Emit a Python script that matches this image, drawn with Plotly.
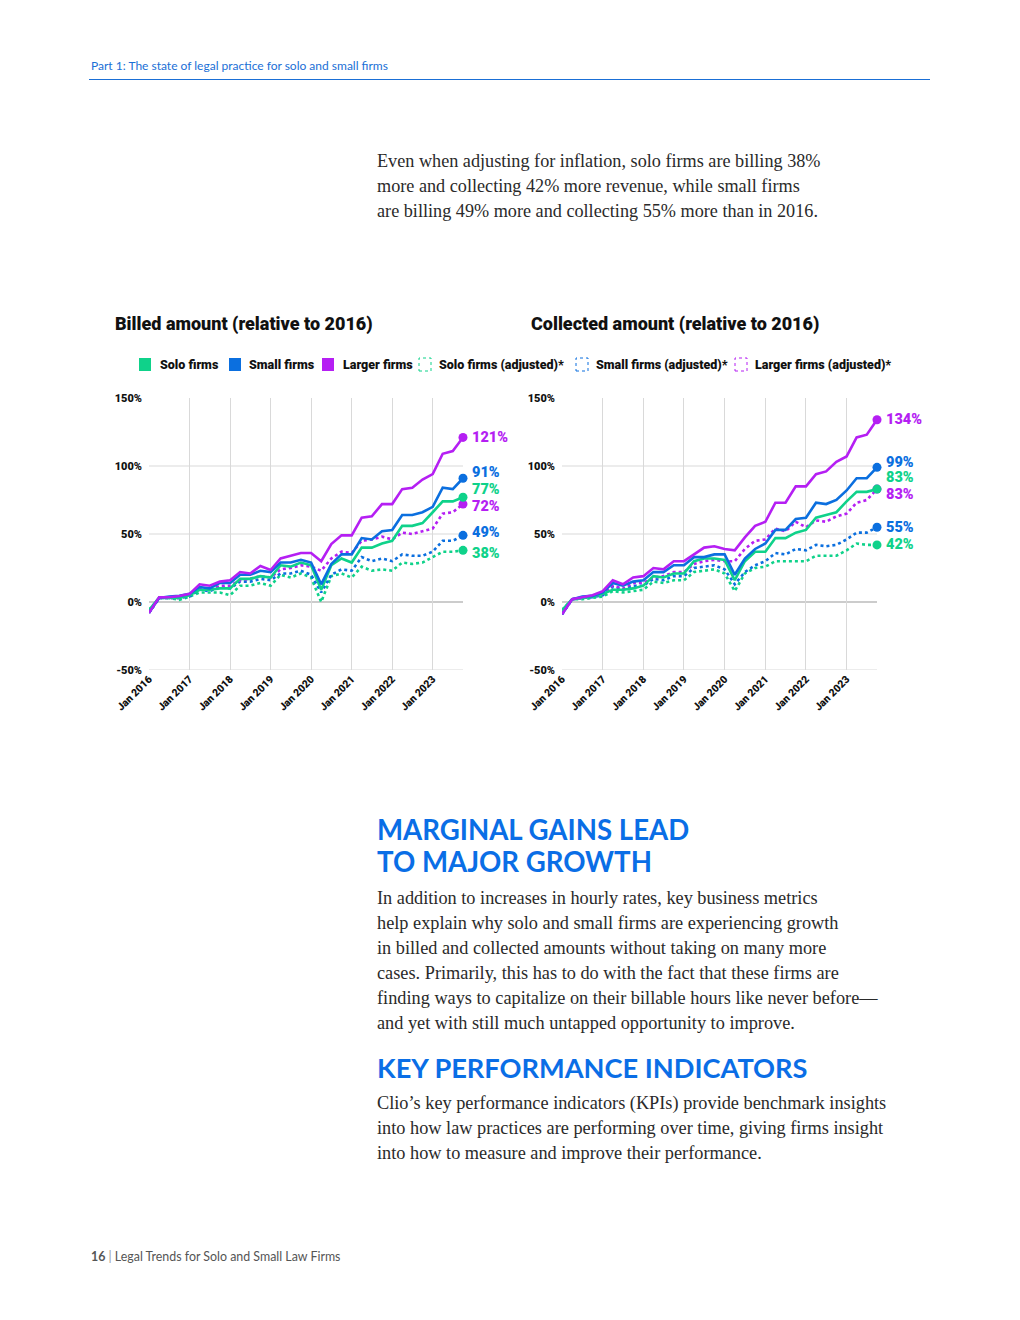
import plotly.graph_objects as go

# figure sits inside the page body (8px margin), so use the inner size
W, H = 1004, 1304
OFF = 8

# ---------------- data ----------------
quarters = ["2016-01-01", "2016-04-01", "2016-07-01", "2016-10-01",
            "2017-01-01", "2017-04-01", "2017-07-01", "2017-10-01",
            "2018-01-01", "2018-04-01", "2018-07-01", "2018-10-01",
            "2019-01-01", "2019-04-01", "2019-07-01", "2019-10-01",
            "2020-01-01", "2020-04-01", "2020-07-01", "2020-10-01",
            "2021-01-01", "2021-04-01", "2021-07-01", "2021-10-01",
            "2022-01-01", "2022-04-01", "2022-07-01", "2022-10-01",
            "2023-01-01", "2023-04-01", "2023-07-01", "2023-10-01"]

year_ticks = ["2016-01-01", "2017-01-01", "2018-01-01", "2019-01-01",
              "2020-01-01", "2021-01-01", "2022-01-01", "2023-01-01"]
year_labels = ["Jan 2016", "Jan 2017", "Jan 2018", "Jan 2019",
               "Jan 2020", "Jan 2021", "Jan 2022", "Jan 2023"]

y_ticks = [-50, 0, 50, 100, 150]
y_labels = ["-50%", "0%", "50%", "100%", "150%"]

# Billed amount (relative to 2016), %
billed_solo = [-6, 3, 3, 3, 5, 9, 9, 10, 10, 17, 17, 19, 18, 27, 26, 29,
               27, 9, 27, 32, 29, 40, 40, 43, 45, 56, 56, 58, 66, 74, 74, 77]
billed_small = [-8, 3, 4, 4.5, 6, 11, 10, 14, 14, 20, 20, 23, 22, 29, 29, 31,
                29, 13, 28, 35, 35, 47, 46, 52, 53, 64, 64, 66, 70, 84, 83, 91]
billed_larger = [-8, 3.4, 3.5, 4.4, 6, 13, 12, 15, 16, 22, 21, 26.5, 23.5, 32, 34, 36,
                 36, 30, 42.6, 49, 49, 62, 63, 72, 72, 83, 84, 90, 94, 109, 111, 121]
billed_solo_adj = [-6, 3, 3, 1.5, 4, 7, 7, 7, 5, 12, 12, 14, 12, 20, 18, 21,
                   18, 0, 19, 21, 18, 26, 23, 24, 23, 29, 28, 29, 33, 37, 37, 38]
billed_small_adj = [-8, 3, 3, 3, 4, 9, 8, 11, 10, 15, 15, 17, 16, 21, 21, 23,
                    20, 7, 20, 24, 23, 33, 30, 32, 30, 35, 34, 34, 37, 45, 45, 49]
billed_larger_adj = [-8, 3, 3, 3, 5, 10, 9, 12, 12, 16, 17, 19, 18, 24, 25, 27,
                     26, 23, 32, 37, 36, 45, 46, 48, 46, 51, 50, 52, 54, 65, 66, 72]

# Collected amount (relative to 2016), %
coll_solo = [-6, 2, 3, 4, 6, 9, 9, 10, 12, 19, 18, 21, 21, 30, 32, 32,
             31, 16, 30, 37, 37, 47, 47, 51, 53, 62, 64, 66, 74, 81, 81, 83]
coll_small = [-9, 2, 4, 4.5, 7, 14, 12, 15, 16, 22, 22, 27, 27, 33, 33, 35,
              35, 20, 32, 39, 43, 53, 53, 61, 62, 73, 72, 75, 82, 91, 91, 99]
coll_larger = [-9, 2, 3.5, 5, 8, 16, 13, 18, 19, 25, 24, 30, 30, 35, 40, 41,
               39, 38, 47.5, 56, 59, 73, 73, 85, 85, 94, 96, 103, 107, 121, 123, 134]
coll_solo_adj = [-6, 2, 2, 3, 4, 8, 7, 8, 9, 15, 14, 16, 16, 22, 23, 24,
                 21, 8, 21, 25, 26, 30, 30, 30, 30, 34, 34, 34, 38, 43, 42, 42]
coll_small_adj = [-9, 2, 3, 3.5, 5, 11, 9, 12, 12, 17, 16, 19, 19, 25, 26, 27,
                  24, 13, 22, 27, 30, 36, 35, 39, 38, 42, 41, 42, 46, 51, 51, 55]
coll_larger_adj = [-9, 2, 3, 4, 6, 12, 10, 14, 14, 18, 19, 22, 22, 28, 30, 31,
                   30, 30, 39, 45, 46, 54, 52, 59, 55, 60, 59, 63, 65, 73, 75, 83]

series_names = ["Solo firms", "Small firms", "Larger firms",
                "Solo firms (adjusted)*", "Small firms (adjusted)*", "Larger firms (adjusted)*"]

chart_titles = ["Billed amount (relative to 2016)", "Collected amount (relative to 2016)"]

header_text = "Part 1: The state of legal practice for solo and small firms"
intro_lines = ["Even when adjusting for inflation, solo firms are billing 38%",
               "more and collecting 42% more revenue, while small firms",
               "are billing 49% more and collecting 55% more than in 2016."]
heading1_lines = ["MARGINAL GAINS LEAD", "TO MAJOR GROWTH"]
body1_lines = ["In addition to increases in hourly rates, key business metrics",
               "help explain why solo and small firms are experiencing growth",
               "in billed and collected amounts without taking on many more",
               "cases. Primarily, this has to do with the fact that these firms are",
               "finding ways to capitalize on their billable hours like never before\u2014",
               "and yet with still much untapped opportunity to improve."]
heading2 = "KEY PERFORMANCE INDICATORS"
body2_lines = ["Clio\u2019s key performance indicators (KPIs) provide benchmark insights",
               "into how law practices are performing over time, giving firms insight",
               "into how to measure and improve their performance."]
footer_page = "16"
footer_text = "Legal Trends for Solo and Small Law Firms"

# ---------------- styles ----------------
GREEN = "#0fd28a"
BLUE = "#0b6fdf"
PURPLE = "#b51ff3"
colors = [GREEN, BLUE, PURPLE, GREEN, BLUE, PURPLE]
dashes = ["solid", "solid", "solid", "dot", "dot", "dot"]
ACCENT = "#1a6fd6"
HEAD_BLUE = "#0a6ee6"
TEXT = "#2a2a2a"
CHART_FONT = "Roboto"
CHART_W = 900
SANS = "Lato"
SERIF = "Liberation Serif"
BODY_SIZE = 18.3


def px(x):
    return (x - OFF) / W


def py(y):
    return 1 - (y - OFF) / H


fig = go.Figure()

charts = [
    dict(series=[billed_solo, billed_small, billed_larger,
                 billed_solo_adj, billed_small_adj, billed_larger_adj],
         xa="x", ya="y", dom=[px(149), px(463)],
         label_shift=[8, 6, 0, -3, 3, -2]),
    dict(series=[coll_solo, coll_small, coll_larger,
                 coll_solo_adj, coll_small_adj, coll_larger_adj],
         xa="x2", ya="y2", dom=[px(562), px(877)],
         label_shift=[12, 5, 0, 0, 0, -5]),
]

ydom = [py(670), py(398)]
grid_vals = [-50, 50, 100]

draw_order = [3, 4, 5, 0, 1, 2]
for ci, ch in enumerate(charts):
    for si in draw_order:
        vals = ch["series"][si]
        fig.add_trace(go.Scatter(
            x=quarters, y=vals, mode="lines", xaxis=ch["xa"], yaxis=ch["ya"],
            line=dict(color=colors[si], width=2.6, dash=dashes[si]), cliponaxis=False,
            name=series_names[si], showlegend=False, hoverinfo="skip"))
        fig.add_trace(go.Scatter(
            x=[quarters[-1]], y=[vals[-1]], mode="markers", xaxis=ch["xa"], yaxis=ch["ya"],
            marker=dict(color=colors[si], size=9), cliponaxis=False,
            showlegend=False, hoverinfo="skip"))
        fig.add_annotation(
            x=quarters[-1], y=vals[-1], xref=ch["xa"], yref=ch["ya"],
            text=f"{vals[-1]:g}%", showarrow=False, xanchor="left", yanchor="middle",
            xshift=8, yshift=ch["label_shift"][si], borderpad=0,
            font=dict(family=CHART_FONT, size=14.5, color=colors[si], weight=CHART_W))
    for g in grid_vals:
        fig.add_shape(type="line", xref=f"{ch['xa']} domain", yref=ch["ya"],
                      x0=0, x1=1, y0=g, y1=g, line=dict(color="#d9d9d9", width=1), layer="below")
    fig.add_shape(type="line", xref=f"{ch['xa']} domain", yref=ch["ya"],
                  x0=0, x1=1, y0=0, y1=0, line=dict(color="#9a9a9a", width=1.2), layer="below")

xtickfont = dict(family=CHART_FONT, size=10.5, color="#111", weight=CHART_W)
ytickfont = dict(family=CHART_FONT, size=11, color="#111", weight=CHART_W)
for i, ch in enumerate(charts):
    sfx = "" if i == 0 else "2"
    fig.layout["xaxis" + sfx] = dict(
        domain=ch["dom"], anchor="y" + sfx, type="date",
        range=[quarters[0], quarters[-1]], tickvals=year_ticks, ticktext=year_labels,
        tickangle=-45, showgrid=True, gridcolor="#d9d9d9", gridwidth=1,
        tickfont=xtickfont, ticks="", showline=False, zeroline=False)
    fig.layout["yaxis" + sfx] = dict(
        domain=ydom, anchor="x" + sfx, range=[-50, 150], tickvals=y_ticks, ticktext=y_labels,
        showgrid=False, ticks="", ticklabelstandoff=6, tickfont=ytickfont,
        showline=False, zeroline=False)

# chart titles
for x0, t in zip([113, 529], chart_titles):
    fig.add_annotation(xref="paper", yref="paper", x=px(x0), y=py(324), text=t,
                       showarrow=False, xanchor="left", yanchor="middle",
                       font=dict(family=CHART_FONT, size=18, color="#111", weight=CHART_W))

# legend (manual)
legend_sw_x = [139, 229, 322, 419, 576, 735]
legend_tx_x = [158, 247, 341, 437, 594, 753]
for i, nm in enumerate(series_names):
    filled = dashes[i] == "solid"
    fig.add_shape(type="rect", xref="paper", yref="paper",
                  x0=px(legend_sw_x[i]), x1=px(legend_sw_x[i] + 12), y0=py(371), y1=py(358),
                  fillcolor=colors[i] if filled else "rgba(0,0,0,0)",
                  line=dict(color=colors[i], width=0 if filled else 1, dash="dot"))
    fig.add_annotation(xref="paper", yref="paper", x=px(legend_tx_x[i]), y=py(364),
                       text=nm, showarrow=False, xanchor="left", yanchor="middle",
                       font=dict(family=CHART_FONT, size=12.5, color="#111", weight=CHART_W))

# header
fig.add_annotation(xref="paper", yref="paper", x=px(89), y=py(66), text=header_text,
                   showarrow=False, xanchor="left", yanchor="middle",
                   font=dict(family=SANS, size=12, color=ACCENT))
fig.add_shape(type="line", xref="paper", yref="paper", x0=px(89), x1=px(930), y0=py(79.5), y1=py(79.5),
              line=dict(color=ACCENT, width=1.2))

# intro paragraph
for i, ln in enumerate(intro_lines):
    fig.add_annotation(xref="paper", yref="paper", x=px(375), y=py(161 + 25 * i), text=ln,
                       showarrow=False, xanchor="left", yanchor="middle",
                       font=dict(family=SERIF, size=18.2, color=TEXT))

# heading 1 + body
for i, ln in enumerate(heading1_lines):
    fig.add_annotation(xref="paper", yref="paper", x=px(375), y=py(829 + 32 * i), text=ln,
                       showarrow=False, xanchor="left", yanchor="middle",
                       font=dict(family=SANS, size=27.6, color=HEAD_BLUE, weight="bold"))
for i, ln in enumerate(body1_lines):
    fig.add_annotation(xref="paper", yref="paper", x=px(375), y=py(898 + 25 * i), text=ln,
                       showarrow=False, xanchor="left", yanchor="middle",
                       font=dict(family=SERIF, size=BODY_SIZE, color=TEXT))
fig.add_annotation(xref="paper", yref="paper", x=px(375), y=py(1067), text=heading2,
                   showarrow=False, xanchor="left", yanchor="middle",
                   font=dict(family=SANS, size=27.2, color=HEAD_BLUE, weight="bold"))
for i, ln in enumerate(body2_lines):
    fig.add_annotation(xref="paper", yref="paper", x=px(375), y=py(1103 + 25 * i), text=ln,
                       showarrow=False, xanchor="left", yanchor="middle",
                       font=dict(family=SERIF, size=BODY_SIZE, color=TEXT))

# footer
fig.add_annotation(xref="paper", yref="paper", x=px(89), y=py(1256),
                   text=f"<b>{footer_page}</b> <span style='color:#999'>|</span> {footer_text}",
                   showarrow=False, xanchor="left", yanchor="middle",
                   font=dict(family=SANS, size=12.4, color="#555"))

fig.update_layout(width=W, height=H, margin=dict(l=0, r=0, t=0, b=0, autoexpand=False),
                  paper_bgcolor="white", plot_bgcolor="white", showlegend=False)

fig.write_html("out.html")
